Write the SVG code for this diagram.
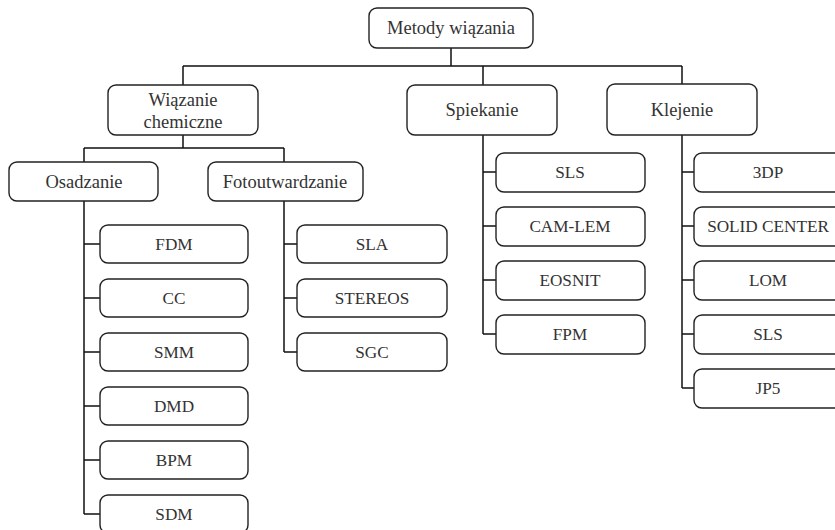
<svg xmlns="http://www.w3.org/2000/svg" width="835" height="530" viewBox="0 0 835 530">
<style>
.n rect{fill:#fff;stroke:#222;stroke-width:1.4}
.n text{font-family:'Liberation Serif','Times New Roman',serif;font-size:18.5px;fill:#333;text-anchor:middle}
.n.k text{font-size:17.2px}
.c path{fill:none;stroke:#111;stroke-width:1.5}
</style>
<rect width="835" height="530" fill="#fff"/>
<g class="c" id="connectors">
<path d="M451 48V66M183 66H682M183 66V85M483 66V85M682 66V84"/>
<path d="M183 135V148M84 148H284M84 148V162M284 148V162"/>
<path d="M84 201V514M84 244H100M84 298H100M84 352H100M84 406H100M84 460H100M84 514H100"/>
<path d="M284 201V352M284 244H297M284 298H297M284 352H297"/>
<path d="M483 135V334M483 172H496M483 226H496M483 280H496M483 334H496"/>
<path d="M682 135V388M682 172H694M682 226H694M682 280H694M682 334H694M682 388H694"/>
</g>
<g class="n" id="metody"><rect x="369" y="8" width="164" height="40" rx="8"/><text x="451" y="34">Metody wiązania</text></g>
<g class="n" id="wiazanie"><rect x="108" y="85" width="150" height="50" rx="8"/><text x="183" y="106">Wiązanie</text><text x="183" y="128">chemiczne</text></g>
<g class="n" id="spiekanie"><rect x="407" y="85" width="150" height="50" rx="8"/><text x="482" y="116">Spiekanie</text></g>
<g class="n" id="klejenie"><rect x="607" y="84" width="150" height="51" rx="8"/><text x="682" y="116">Klejenie</text></g>
<g class="n" id="osadzanie"><rect x="9" y="162" width="149" height="39" rx="8"/><text x="84" y="188">Osadzanie</text></g>
<g class="n" id="foto"><rect x="208" y="162" width="155" height="39" rx="8"/><text x="285" y="188">Fotoutwardzanie</text></g>
<g class="n k" id="fdm"><rect x="100" y="225" width="148" height="38" rx="8"/><text x="174" y="250">FDM</text></g>
<g class="n k" id="cc"><rect x="100" y="279" width="148" height="38" rx="8"/><text x="174" y="304">CC</text></g>
<g class="n k" id="smm"><rect x="100" y="333" width="148" height="38" rx="8"/><text x="174" y="358">SMM</text></g>
<g class="n k" id="dmd"><rect x="100" y="387" width="148" height="38" rx="8"/><text x="174" y="412">DMD</text></g>
<g class="n k" id="bpm"><rect x="100" y="441" width="148" height="38" rx="8"/><text x="174" y="466">BPM</text></g>
<g class="n k" id="sdm"><rect x="100" y="495" width="148" height="38" rx="8"/><text x="174" y="520">SDM</text></g>
<g class="n k" id="sla"><rect x="297" y="225" width="150" height="38" rx="8"/><text x="372" y="250">SLA</text></g>
<g class="n k" id="stereos"><rect x="297" y="279" width="150" height="38" rx="8"/><text x="372" y="304">STEREOS</text></g>
<g class="n k" id="sgc"><rect x="297" y="333" width="150" height="38" rx="8"/><text x="372" y="358">SGC</text></g>
<g class="n k" id="sls1"><rect x="496" y="153" width="149" height="39" rx="8"/><text x="570" y="178">SLS</text></g>
<g class="n k" id="camlem"><rect x="496" y="207" width="149" height="39" rx="8"/><text x="570" y="232">CAM-LEM</text></g>
<g class="n k" id="eosnit"><rect x="496" y="261" width="149" height="39" rx="8"/><text x="570" y="286">EOSNIT</text></g>
<g class="n k" id="fpm"><rect x="496" y="315" width="149" height="39" rx="8"/><text x="570" y="340">FPM</text></g>
<g class="n k" id="dp3"><rect x="694" y="153" width="148" height="39" rx="8"/><text x="768" y="178">3DP</text></g>
<g class="n k" id="solid"><rect x="694" y="207" width="148" height="39" rx="8"/><text x="768" y="232">SOLID CENTER</text></g>
<g class="n k" id="lom"><rect x="694" y="261" width="148" height="39" rx="8"/><text x="768" y="286">LOM</text></g>
<g class="n k" id="sls2"><rect x="694" y="315" width="148" height="39" rx="8"/><text x="768" y="340">SLS</text></g>
<g class="n k" id="jp5"><rect x="694" y="369" width="148" height="39" rx="8"/><text x="768" y="394">JP5</text></g>
</svg>
